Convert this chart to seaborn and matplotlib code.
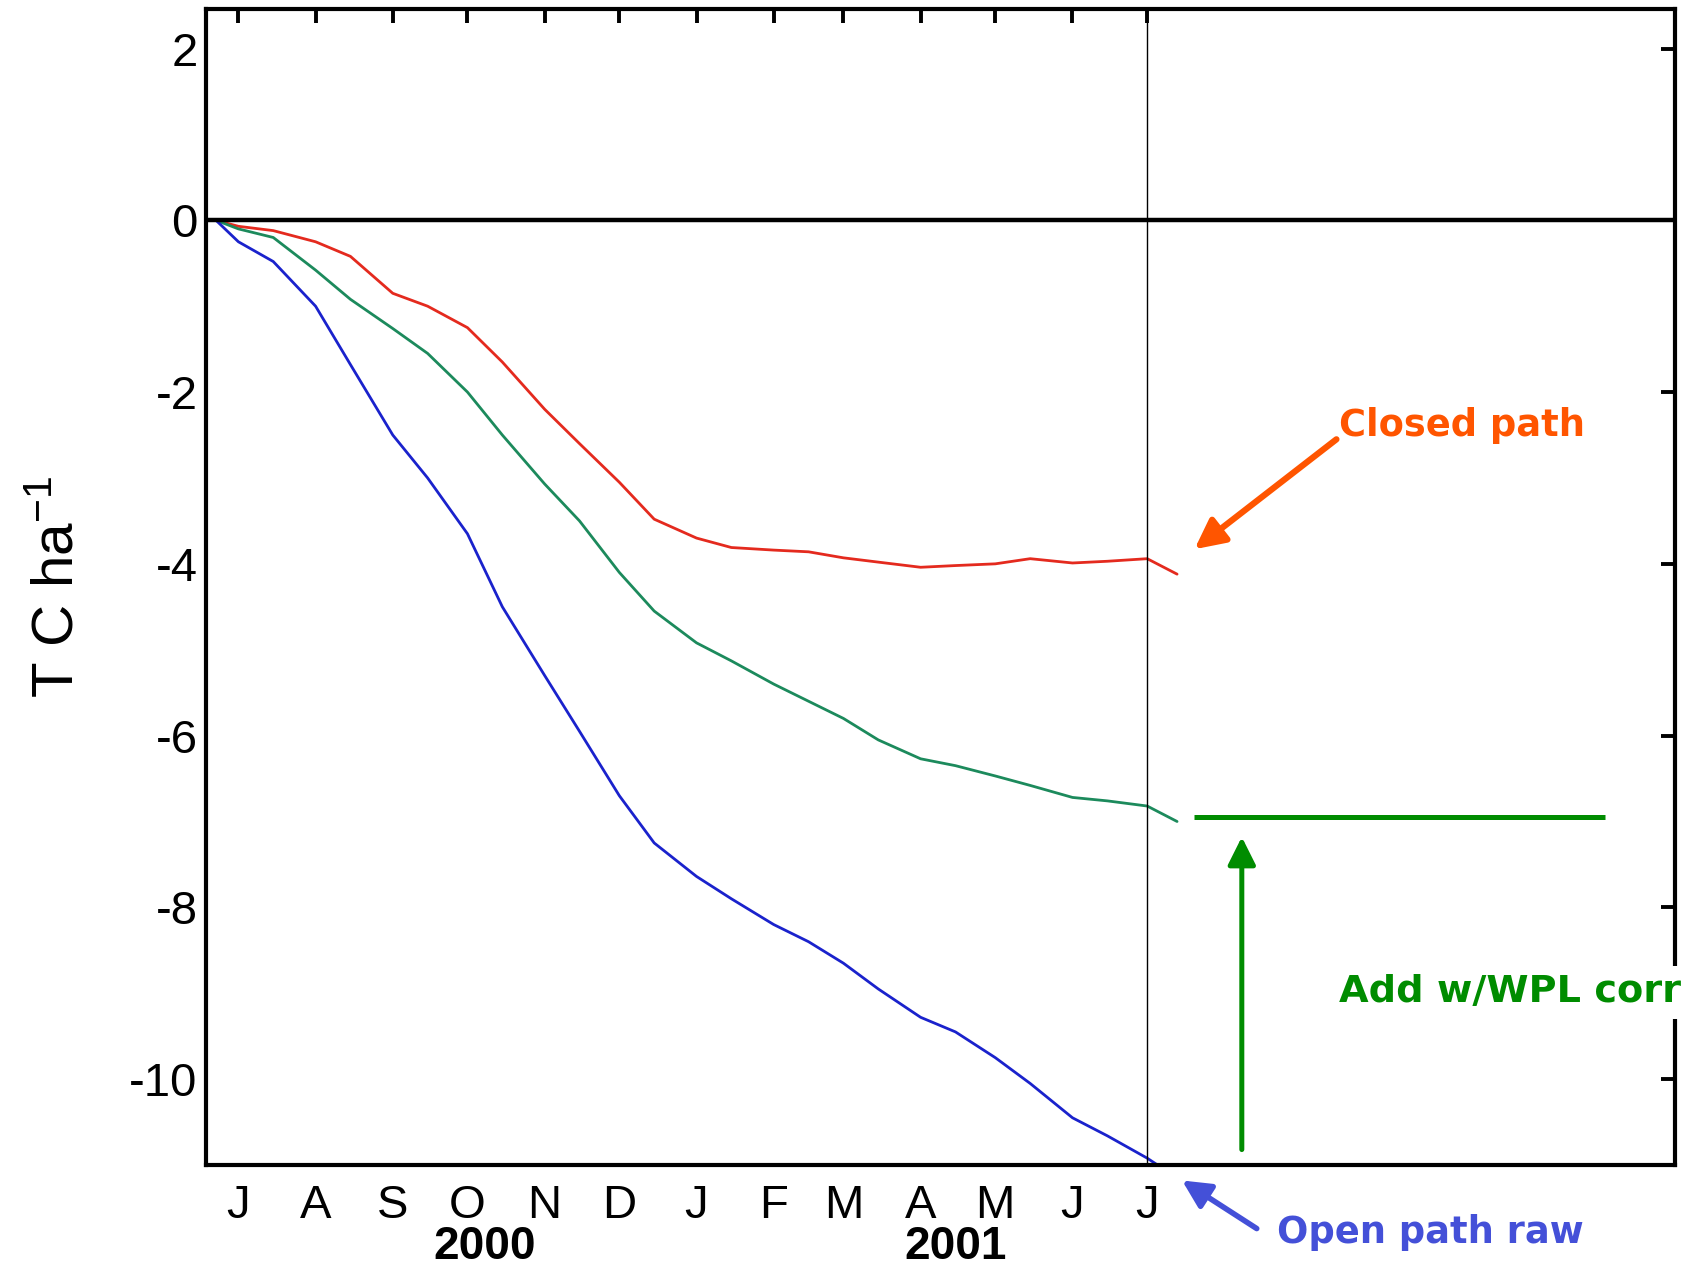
import numpy as np
import pandas as pd
import matplotlib
matplotlib.use("Agg")
import matplotlib.pyplot as plt
import matplotlib.dates as mdates
import matplotlib.transforms as mtransforms
import seaborn as sns

# ---------------- data ----------------
dates = ["2000-06-22", "2000-07-01", "2000-07-15", "2000-08-01", "2000-08-15",
         "2000-09-01", "2000-09-15", "2000-10-01", "2000-10-15", "2000-11-01",
         "2000-11-15", "2000-12-01", "2000-12-15", "2001-01-01", "2001-01-15",
         "2001-02-01", "2001-02-15", "2001-03-01", "2001-03-15", "2001-04-01",
         "2001-04-15", "2001-05-01", "2001-05-15", "2001-06-01", "2001-06-15",
         "2001-07-01", "2001-07-13"]

closed_path = [0.0, -0.07, -0.12, -0.25, -0.42, -0.85, -1.00, -1.25, -1.65, -2.20,
               -2.60, -3.05, -3.48, -3.70, -3.81, -3.84, -3.86, -3.93, -3.98, -4.04,
               -4.02, -4.00, -3.94, -3.99, -3.97, -3.94, -4.12]

wpl_corr = [0.0, -0.10, -0.20, -0.58, -0.92, -1.26, -1.55, -2.00, -2.50, -3.07,
            -3.50, -4.10, -4.55, -4.92, -5.13, -5.40, -5.60, -5.80, -6.05, -6.27,
            -6.35, -6.47, -6.58, -6.72, -6.76, -6.82, -7.00]

open_path_raw = [0.0, -0.25, -0.48, -1.00, -1.68, -2.50, -3.00, -3.65, -4.50, -5.30,
                 -5.95, -6.70, -7.25, -7.64, -7.90, -8.20, -8.40, -8.65, -8.95, -9.28,
                 -9.45, -9.75, -10.05, -10.45, -10.66, -10.92, -11.15]

series_names = ["Closed path", "Add w/WPL corr", "Open path raw"]
month_labels = ["J", "A", "S", "O", "N", "D", "J", "F", "M", "A", "M", "J", "J"]
year_labels = ["2000", "2001"]
y_ticks = [-10, -8, -6, -4, -2, 0, 2]

# ---------------- build table ----------------
dt = pd.to_datetime(dates)
df = pd.concat([
    pd.DataFrame({"date": dt, "value": closed_path, "series": series_names[0]}),
    pd.DataFrame({"date": dt, "value": wpl_corr, "series": series_names[1]}),
    pd.DataFrame({"date": dt, "value": open_path_raw, "series": series_names[2]}),
], ignore_index=True)

palette = {series_names[0]: "#E42A1E",
           series_names[1]: "#1C8A5C",
           series_names[2]: "#1A22CC"}

sns.set_theme(style="white", rc={"text.color": "black", "axes.labelcolor": "black",
                                 "xtick.color": "black", "ytick.color": "black"})
plt.rcParams["font.family"] = ["Liberation Sans", "DejaVu Sans"]
plt.rcParams["axes.unicode_minus"] = False
plt.rcParams["mathtext.fontset"] = "custom"
plt.rcParams["mathtext.rm"] = "Liberation Sans"
plt.rcParams["mathtext.it"] = "Liberation Sans"
plt.rcParams["mathtext.bf"] = "Liberation Sans:bold"

fig = plt.figure(figsize=(16.86, 12.72), dpi=100)
ax = fig.add_axes([0.1222, 0.0841, 0.8713, 0.9088])

sns.lineplot(data=df, x="date", y="value", hue="series", palette=palette,
             linewidth=2.0, legend=False, ax=ax, estimator=None, sort=False)

# axes limits
ax.set_xlim(pd.Timestamp("2000-06-18"), pd.Timestamp("2002-01-29"))
ax.set_ylim(-11, 2.46)

# zero line and vertical line at July 2001
ax.axhline(0, color="black", lw=3.2, zorder=3)
ax.axvline(pd.Timestamp("2001-07-01"), color="black", lw=1.0, zorder=3)

# ticks
month_ticks = pd.date_range("2000-07-01", "2001-07-01", freq="MS")
ax.set_xticks(month_ticks)
ax.set_xticklabels(month_labels)
ax.set_yticks(y_ticks)
ax.set_yticklabels([str(v) for v in y_ticks])
ax.tick_params(axis="both", direction="in", length=10, width=2.8,
               top=True, right=True, labelsize=34, colors="black")
ax.tick_params(axis="x", pad=14)
ax.tick_params(axis="y", pad=6)

for s in ax.spines.values():
    s.set_linewidth(3.0)
    s.set_color("black")

ax.set_xlabel("")
ax.set_ylabel("T C ha$^{-1}$", fontsize=42, color="black")
ax.yaxis.set_label_coords(-0.083, 0.5)

# year labels
trans = mtransforms.blended_transform_factory(ax.transData, ax.transAxes)
ax.text(pd.Timestamp("2000-10-08"), -0.071, year_labels[0], transform=trans,
        ha="center", va="center", fontsize=33, fontweight="bold", color="black",
        clip_on=False)
ax.text(pd.Timestamp("2001-04-15"), -0.071, year_labels[1], transform=trans,
        ha="center", va="center", fontsize=33, fontweight="bold", color="black",
        clip_on=False)

# annotations
d = mdates.date2num
ann_font = ["DejaVu Sans"]

ax.text(d(pd.Timestamp("2001-09-16")), -2.39, series_names[0], color="#FF5500",
        fontsize=26.5, fontweight="bold", family=ann_font, ha="left", va="center")
ax.annotate("", xy=(d(pd.Timestamp("2001-07-20")), -3.83),
            xytext=(d(pd.Timestamp("2001-09-15")), -2.55),
            arrowprops=dict(arrowstyle="-|>", color="#FF5500", lw=4.5,
                            mutation_scale=45, shrinkA=0, shrinkB=0))

ax.plot([d(pd.Timestamp("2001-07-20")), d(pd.Timestamp("2002-01-01"))],
        [-6.95, -6.95], color="#008C00", lw=3.6, solid_capstyle="butt")
ax.annotate("", xy=(d(pd.Timestamp("2001-08-08")), -7.18),
            xytext=(d(pd.Timestamp("2001-08-08")), -10.82),
            arrowprops=dict(arrowstyle="-|>", color="#008C00", lw=3.6,
                            mutation_scale=42, shrinkA=0, shrinkB=0))
ax.text(d(pd.Timestamp("2001-09-16")), -8.99, series_names[1], color="#008C00",
        fontsize=27.5, fontweight="bold", family=ann_font, ha="left", va="center",
        zorder=10, clip_on=False,
        bbox=dict(facecolor="white", edgecolor="none", pad=6))

ax.annotate("", xy=(d(pd.Timestamp("2001-07-15")), -11.18),
            xytext=(d(pd.Timestamp("2001-08-14")), -11.74),
            arrowprops=dict(arrowstyle="-|>", color="#4450D8", lw=4.0,
                            mutation_scale=42, shrinkA=0, shrinkB=0),
            annotation_clip=False)
ax.text(d(pd.Timestamp("2001-08-22")), -11.78, series_names[2], color="#4450D8",
        fontsize=26.5, fontweight="bold", family=ann_font, ha="left", va="center",
        clip_on=False)

fig.savefig("out.png", dpi=100, facecolor="white")
